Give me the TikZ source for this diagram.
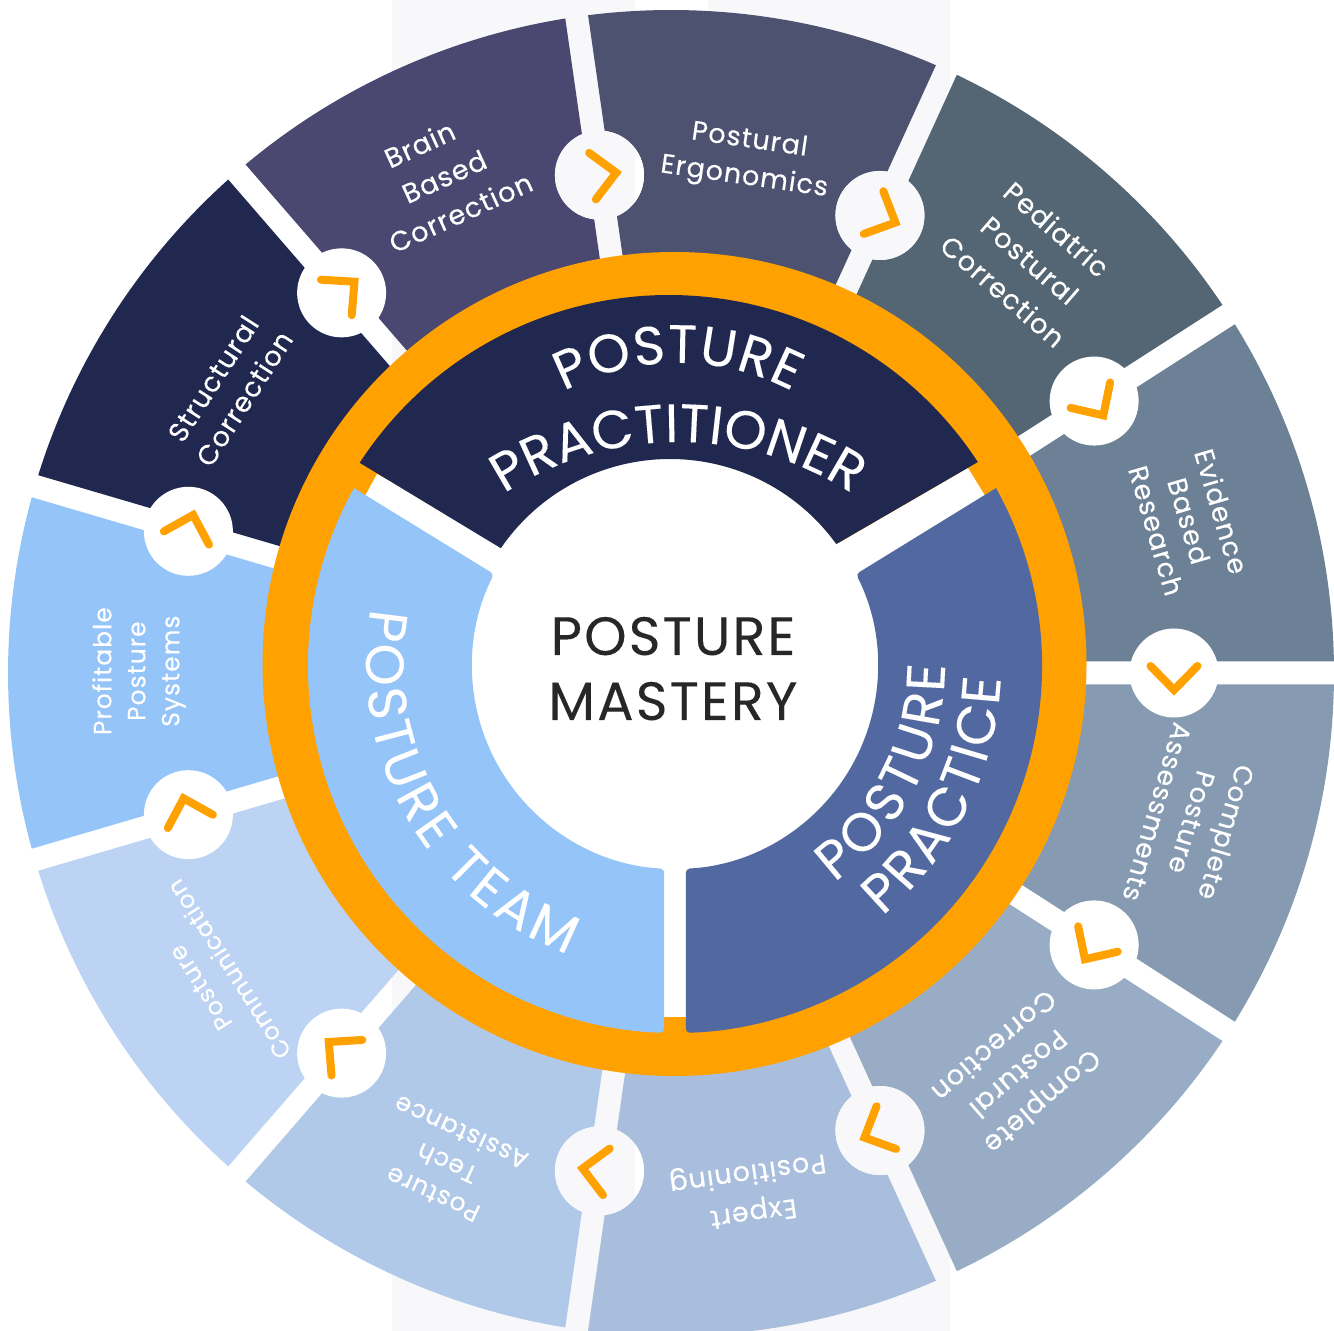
\documentclass[tikz,border=0pt]{standalone}
\usepackage{fontspec}
\usetikzlibrary{decorations.text}
\newfontfamily\bigfnt[LetterSpace=4,FakeBold=0.12]{Poppins}
\newfontfamily\smallfnt[LetterSpace=4,FakeBold=0.25]{Poppins}
\newfontfamily\arcfnt[FakeBold=0.1]{Poppins}
\definecolor{bandc}{HTML}{F8F8FB}
\definecolor{orng}{HTML}{FFA100}
\definecolor{navy}{HTML}{202850}
\definecolor{pract}{HTML}{5268A0}
\definecolor{team}{HTML}{95C4F9}
\definecolor{sa}{HTML}{6C8096}
\definecolor{sb}{HTML}{546673}
\definecolor{sc}{HTML}{4C5270}
\definecolor{sd}{HTML}{4A4870}
\definecolor{se}{HTML}{202850}
\definecolor{sf}{HTML}{95C4F9}
\definecolor{sg}{HTML}{BCD3F3}
\definecolor{sh}{HTML}{B1C9E8}
\definecolor{si}{HTML}{A9BEDC}
\definecolor{sj}{HTML}{98ADC5}
\definecolor{sk}{HTML}{869BB2}
\definecolor{ink}{HTML}{272727}
\tikzset{
  seglab/.style 2 args={text=white,align=center,inner sep=0pt,font=\fontsize{#1}{#2}\selectfont\smallfnt},
  chev/.style={draw=orng,line width=8pt,line cap=round,line join=miter,miter limit=10},
  mastery/.style={text=ink,anchor=base,inner sep=0pt,font=\fontsize{54}{60}\selectfont\bigfnt}
}
\newcommand{\arcfmt}{|\fontsize{54}{60}\selectfont\arcfnt\color{white}|}
\begin{document}
\begin{tikzpicture}[x=1pt,y=1pt]
\useasboundingbox (0,0) rectangle (1334,1331);
\clip (0,0) rectangle (1334,1331);
\coordinate (O) at (671,658);
\coordinate (I) at (675,665);
\coordinate (It) at (675,667);
\coordinate (Cn) at (669,667);
% backdrop
\fill[bandc] (392,0) rectangle (950,1331);
\fill[white] (635,0) rectangle (708,1331);
% outer segments
\foreach \k/\c in {0/sa,1/sb,2/sc,3/sd,4/se,5/sf,6/sg,7/sh,8/si,9/sj,10/sk}{
  \pgfmathsetmacro{\a}{\k*360/11}
  \pgfmathsetmacro{\b}{(\k+1)*360/11}
  \pgfmathsetmacro{\sa}{\a+0.994}
  \pgfmathsetmacro{\sb}{\b-0.994}
  \pgfmathsetmacro{\ia}{\a+2.197}
  \pgfmathsetmacro{\ib}{\b-2.197}
  \fill[\c] ([shift={(O)}]\sa:663) arc[start angle=\sa,end angle=\sb,radius=663pt]
     -- ([shift={(O)}]\ib:300) -- ([shift={(O)}]\ia:300) -- cycle;
}
% circles with chevrons
\foreach \k in {0,...,10}{
  \pgfmathsetmacro{\a}{\k*360/11}
  \coordinate (c\k) at ([shift={(O)}]\a:503);
  \fill[white] (c\k) circle (44.5pt);
  \begin{scope}
    \clip (c\k) circle (44.5pt);
    \fill[bandc] (392,0) rectangle (950,1331);
    \fill[white] (635,0) rectangle (708,1331);
  \end{scope}
  \begin{scope}[shift={(c\k)},rotate=\a-90]
    \draw[chev] (-7,23.5) -- (17,0) -- (-7,-23.5);
  \end{scope}
}
% ring
\fill[orng] (674.5,667) circle (412pt);
\fill[white] (I) circle (205pt);
\fill[white] (Cn) circle (207pt);
\fill[white] (664,800) rectangle (686,314);
\fill[white] (377,857) -- (365,835) -- (505,748) -- (525,778) -- cycle;
\fill[white] (968,863) -- (987,832) -- (845,750) -- (825,780) -- cycle;
% inner segments
\fill[navy] ([shift={(Cn)}]146.96:369) arc[start angle=146.96,end angle=33.18,radius=369pt]
   -- ([shift={(670,667)}]35.8:205) arc[start angle=35.8,end angle=145.6,radius=205pt] -- cycle;
\fill[team] ([shift={(I)}]151:367) [rounded corners=4pt] arc[start angle=151,end angle=268.3,radius=367pt]
   -- ([shift={(I)}]266.9:203) arc[start angle=266.9,end angle=153.1,radius=203pt] [sharp corners] -- cycle;
\fill[pract] ([shift={(I)}]29:367) [rounded corners=4pt] arc[start angle=29,end angle=-88.3,radius=367pt]
   -- ([shift={(I)}]-86.9:203) arc[start angle=-86.9,end angle=26.9,radius=203pt] [sharp corners] -- cycle;
% curved titles
\path[decorate,decoration={text along path,text align=center,text={\arcfmt{P\kern1pt}{O\kern1pt}{S\kern1pt}{T\kern1pt}{U\kern1pt}{R\kern1pt}E}}]
  ([shift={(678,723)}]160:245) arc[start angle=160,end angle=20,radius=245pt];
\path[decorate,decoration={text along path,text align=center,text={\arcfmt PRACTITIONER}}]
  ([shift={(678,570)}]140:319) arc[start angle=140,end angle=40,radius=319pt];
\path[decorate,decoration={text along path,text align=center,text={\arcfmt{P\kern4.2pt}{O\kern4.2pt}{S\kern4.2pt}{T\kern4.2pt}{U\kern4.2pt}{R\kern4.2pt}{E\kern4.2pt}{ \kern4.2pt}{T\kern4.2pt}{E\kern4.2pt}{A\kern4.2pt}M}}]
  ([shift={(It)}]150:309) arc[start angle=150,end angle=269.4,radius=309pt];
\path[decorate,decoration={text along path,text align=center,text={\arcfmt{P\kern3.6pt}{O\kern3.6pt}{S\kern3.6pt}{T\kern3.6pt}{U\kern3.6pt}{R\kern3.6pt}E}}]
  ([shift={(It)}]285:270) arc[start angle=285,end angle=381,radius=270pt];
\path[decorate,decoration={text along path,text align=center,text={\arcfmt{P\kern2.8pt}{R\kern2.8pt}{A\kern2.8pt}{C\kern2.8pt}{T\kern2.8pt}{I\kern2.8pt}{C\kern2.8pt}E}}]
  ([shift={(It)}]285:326) arc[start angle=285,end angle=382,radius=326pt];
% centre
\node[mastery] (m1) at (673,676) {POSTURE};
\node[mastery] (m2) at (673,611) {MASTERY};
% outer labels
\node[seglab={27}{34},rotate=-73.64] (t0) at ([shift={(O)}]16.36:540) {Evidence\\Based\\Research};
\node[seglab={27.3}{41},rotate=-40.91] (t1) at ([shift={(O)}]49:547) {Pediatric\\Postural\\Correction};
\node[seglab={27}{37},rotate=-8.18] (t2) at ([shift={(O)}]81.6:519) {Postural\\Ergonomics};
\node[seglab={27.3}{39.5},rotate=24.55] (t3) at ([shift={(O)}]114.55:546) {Brain\hspace*{18pt}\\Based\hspace*{12pt}\\Correction};
\node[seglab={27.3}{37},rotate=57.27] (t4) at ([shift={(O)}]147.27:526) {Structural\\Correction};
\node[seglab={25}{34},rotate=90] (t5) at ([shift={(O)}]179.8:532) {Profitable\\Posture\\Systems};
\node[seglab={24}{34},rotate=122.73] (t6) at ([shift={(O)}]213.8:549) {Posture\\Communication};
\node[seglab={25}{34},rotate=155.45] (t7) at ([shift={(O)}]245.45:539) {Posture\\Tech\\Assistance};
\node[seglab={27}{40},rotate=188.18] (t8) at ([shift={(O)}]278.7:524) {Expert\\Positioning};
\node[seglab={27.3}{37},rotate=220.91] (t9) at ([shift={(O)}]310.91:531) {Complete\\Postural\\Correction};
\node[seglab={26.5}{36},rotate=253.64] (t10) at ([shift={(O)}]344:542) {Complete\\Posture\\Assessments};
\end{tikzpicture}
\end{document}
